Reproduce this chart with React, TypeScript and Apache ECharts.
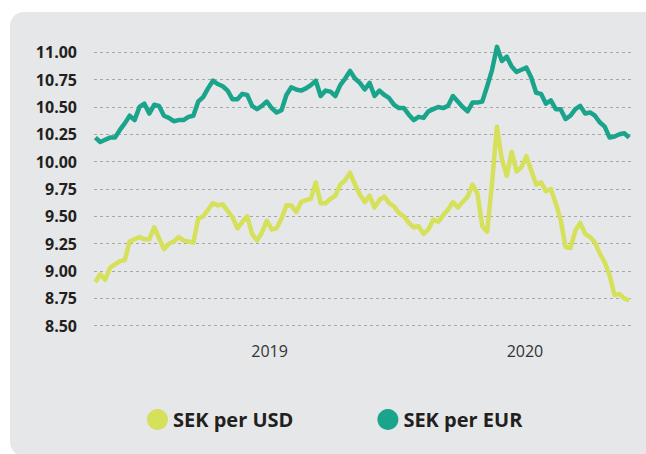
import React, { useEffect, useRef } from "react";
import * as echarts from "echarts";

// Weekly observations, first date and count
const startDate = "2018-04-27";
const weekCount = 110;
const axisMin = "2018-04-25";
const axisMax = "2020-06-02";

const seriesNames = ["SEK per USD", "SEK per EUR"];
const yTicks = [8.5, 8.75, 9.0, 9.25, 9.5, 9.75, 10.0, 10.25, 10.5, 10.75, 11.0];

const sekPerUsd = [
  8.90, 8.97, 8.92, 9.03, 9.06, 9.09, 9.10, 9.27, 9.29, 9.31,
  9.29, 9.29, 9.40, 9.30, 9.20, 9.25, 9.27, 9.31, 9.28, 9.27,
  9.26, 9.48, 9.50, 9.56, 9.62, 9.60, 9.61, 9.55, 9.49, 9.39,
  9.45, 9.50, 9.34, 9.28, 9.35, 9.46, 9.38, 9.39, 9.48, 9.60,
  9.60, 9.54, 9.63, 9.65, 9.66, 9.81, 9.62, 9.62, 9.66, 9.69,
  9.79, 9.83, 9.90, 9.79, 9.70, 9.63, 9.69, 9.58, 9.65, 9.68,
  9.62, 9.59, 9.53, 9.50, 9.44, 9.40, 9.41, 9.34, 9.38, 9.47,
  9.45, 9.51, 9.56, 9.63, 9.58, 9.63, 9.68, 9.79, 9.71, 9.41,
  9.36, 9.81, 10.32, 10.02, 9.87, 10.09, 9.91, 9.95, 10.05, 9.92,
  9.79, 9.81, 9.73, 9.75, 9.62, 9.47, 9.22, 9.21, 9.37, 9.44,
  9.34, 9.31, 9.26, 9.16, 9.08, 8.96, 8.78, 8.79, 8.75, 8.73,
];

const sekPerEur = [
  10.22, 10.18, 10.20, 10.22, 10.22, 10.29, 10.35, 10.42, 10.38, 10.50,
  10.53, 10.44, 10.52, 10.51, 10.42, 10.40, 10.37, 10.38, 10.38, 10.41,
  10.42, 10.55, 10.59, 10.67, 10.74, 10.71, 10.69, 10.65, 10.57, 10.57,
  10.62, 10.61, 10.51, 10.48, 10.51, 10.55, 10.49, 10.45, 10.47, 10.61,
  10.68, 10.66, 10.65, 10.67, 10.70, 10.74, 10.60, 10.65, 10.64, 10.60,
  10.70, 10.76, 10.83, 10.76, 10.72, 10.66, 10.72, 10.60, 10.65, 10.61,
  10.58, 10.52, 10.49, 10.49, 10.43, 10.38, 10.41, 10.40, 10.46, 10.48,
  10.50, 10.49, 10.51, 10.60, 10.55, 10.50, 10.46, 10.54, 10.54, 10.55,
  10.69, 10.84, 11.05, 10.92, 10.96, 10.87, 10.82, 10.84, 10.86, 10.77,
  10.63, 10.62, 10.53, 10.56, 10.48, 10.48, 10.39, 10.42, 10.48, 10.51,
  10.44, 10.45, 10.42, 10.36, 10.32, 10.22, 10.23, 10.25, 10.26, 10.22,
];

const DAY = 24 * 3600 * 1000;

function buildDates(): number[] {
  const t0 = Date.parse(startDate + "T00:00:00Z");
  const out: number[] = [];
  for (let i = 0; i < weekCount; i++) out.push(t0 + i * 7 * DAY);
  return out;
}

export default function App() {
  const ref = useRef<HTMLDivElement>(null);

  useEffect(() => {
    if (!ref.current) return;
    const chart = echarts.init(ref.current, undefined, { renderer: "svg" });
    const dates = buildDates();
    const usd = dates.map((d, i) => [d, sekPerUsd[i]]);
    const eur = dates.map((d, i) => [d, sekPerEur[i]]);

    chart.setOption({
      animation: false,
      useUTC: true,
      backgroundColor: "#ffffff",
      graphic: [
        {
          type: "rect",
          silent: true,
          z: -10,
          shape: { x: 10, y: 12, width: 700, height: 444, r: 14 },
          style: { fill: "#e6e7e8" },
        },
      ],
      grid: {
        left: 94,
        right: 14,
        top: 52.3,
        bottom: 128.3,
        containLabel: false,
        outerBoundsMode: "none",
      },
      legend: {
        left: 142,
        top: 404,
        icon: "circle",
        itemWidth: 21,
        itemHeight: 21,
        itemGap: 84,
        data: seriesNames,
        textStyle: {
          fontFamily: "Open Sans",
          fontWeight: "bold",
          fontSize: 20,
          color: "#231f20",
        },
      },
      xAxis: {
        type: "time",
        min: Date.parse(axisMin + "T00:00:00Z"),
        max: Date.parse(axisMax + "T00:00:00Z"),
        minInterval: 365 * DAY,
        axisLine: { show: false },
        axisTick: { show: false },
        splitLine: { show: false },
        axisLabel: {
          margin: 17,
          fontFamily: "Open Sans",
          fontSize: 16,
          color: "#333333",
          showMinLabel: false,
          showMaxLabel: false,
          formatter: (v: number) => {
            const d = new Date(v);
            return d.getUTCMonth() === 0 && d.getUTCDate() === 1
              ? String(d.getUTCFullYear())
              : "";
          },
        },
      },
      yAxis: {
        type: "value",
        min: yTicks[0],
        max: yTicks[yTicks.length - 1],
        interval: 0.25,
        axisLine: { show: false },
        axisTick: { show: false },
        axisLabel: {
          margin: 17,
          fontFamily: "Open Sans",
          fontWeight: "bold",
          fontSize: 16,
          color: "#231f20",
          formatter: (v: number) => v.toFixed(2),
        },
        splitLine: {
          show: true,
          lineStyle: { color: "#a7a7a7", width: 1, type: [3, 3] },
        },
      },
      series: [
        {
          name: seriesNames[0],
          type: "line",
          data: usd,
          showSymbol: false,
          symbol: "circle",
          clip: false,
          color: "#d5e05b",
          lineStyle: { width: 4.5, color: "#d5e05b", join: "round" },
        },
        {
          name: seriesNames[1],
          type: "line",
          data: eur,
          showSymbol: false,
          symbol: "circle",
          clip: false,
          color: "#1aa48b",
          lineStyle: { width: 4.5, color: "#1aa48b", join: "round" },
        },
      ],
    });

    return () => chart.dispose();
  }, []);

  return (
    <div
      ref={ref}
      style={{ position: "fixed", left: 0, top: 0, width: 646, height: 454 }}
    />
  );
}
